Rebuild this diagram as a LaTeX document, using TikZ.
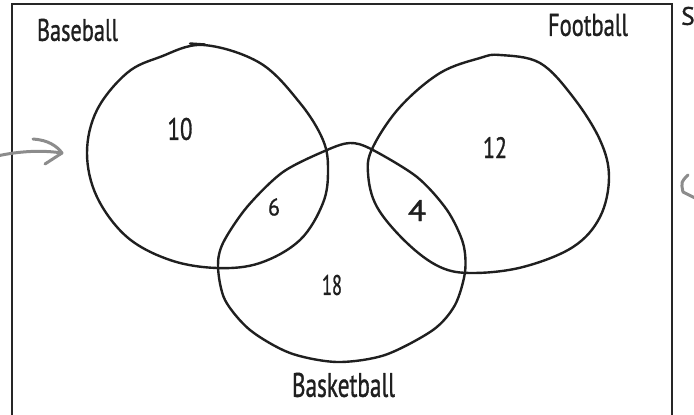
\documentclass[tikz,border=0pt]{standalone}
\usepackage{fontspec}
\setmainfont{PT Sans}
\newfontfamily\handfont{PT Sans}[FakeBold=1.2]
\usepackage{graphicx}
\begin{document}
\begin{tikzpicture}[x=1pt,y=-1pt,
  blob/.style={draw=black!88, line width=2.4pt, line join=round, line cap=round},
  frame/.style={draw=black!85, line width=2.4pt},
  lbl/.style={inner sep=0pt, text=black!88, font=\handfont},
  pointer/.style={draw=black!45, line width=3pt, line cap=round, line join=round}]
\useasboundingbox (0,0) rectangle (694,415);
% frame (open at the bottom, cut by the picture edge)
\coordinate (fbl) at (12,420);
\coordinate (ftl) at (12,4);
\coordinate (ftr) at (672,4);
\coordinate (fbr) at (672,420);
\draw[frame] (fbl) -- (ftl) -- (ftr) -- (fbr);
% Baseball set
\draw[blob] plot[smooth cycle, tension=0.6] coordinates {(203,45) (260,63) (300,103) (323,140) (328,170) (323,203) (300,240) (260,263) (217,268) (170,260) (127,237) (97,197) (87,153) (97,110) (127,73) (160,57)};
\draw[blob] (190,43.5) -- (205,44.5);
% Football set
\draw[blob] plot[smooth cycle, tension=0.6] coordinates {(500,55) (540,63) (573,97) (600,140) (609,177) (600,217) (573,247) (523,267) (473,273) (440,267) (407,243) (377,207) (368,173) (373,147) (400,107) (440,73) (480,58)};
% Basketball set
\draw[blob] plot[smooth cycle, tension=0.5] coordinates {(350,143) (371,149) (417,177) (447,210) (463,243) (465,272) (455,305) (433,330) (385,355) (337,362) (290,353) (250,330) (225,300) (218,267) (223,243) (247,207) (283,172) (327,150)};
% labels
\node[lbl] (baseball) at (77.5,30) {\resizebox{81pt}{22pt}{Baseball}};
\node[lbl] (football) at (588,25) {\resizebox{80pt}{22pt}{Football}};
\node[lbl] (basketball) at (343.5,385) {\resizebox{103pt}{24pt}{Basketball}};
\node[lbl] (n10) at (180,129) {\resizebox{25pt}{22pt}{10}};
\node[lbl] (n12) at (495,147.5) {\resizebox{24pt}{21pt}{12}};
\node[lbl] (n6) at (274,207) {\resizebox{12pt}{17pt}{6}};
\node[lbl] (n4) at (417,210.5) {\resizebox{18pt}{21pt}{4}};
\node[lbl] (n18) at (332,285) {\resizebox{20pt}{20pt}{18}};
\node[lbl, anchor=west] (cut) at (681,16) {\resizebox{!}{18pt}{S}};
% gray pointer arrows
\coordinate (la0) at (-3,156);
\coordinate (latip) at (62,153);
\coordinate (labarb1) at (33,139);
\coordinate (labarb2) at (45,164);
\draw[pointer] (la0) .. controls (20,151) and (42,150) .. (latip);
\draw[pointer] (labarb1) .. controls (48,140) and (57,146) .. (latip);
\draw[pointer] (latip) -- (labarb2);
\coordinate (ratip) at (683,192);
\coordinate (rabarb1) at (688,175);
\coordinate (rabarb2) at (699,200);
\draw[pointer] (rabarb1) .. controls (681,182) .. (ratip);
\draw[pointer] (ratip) -- (rabarb2);
\end{tikzpicture}
\end{document}
